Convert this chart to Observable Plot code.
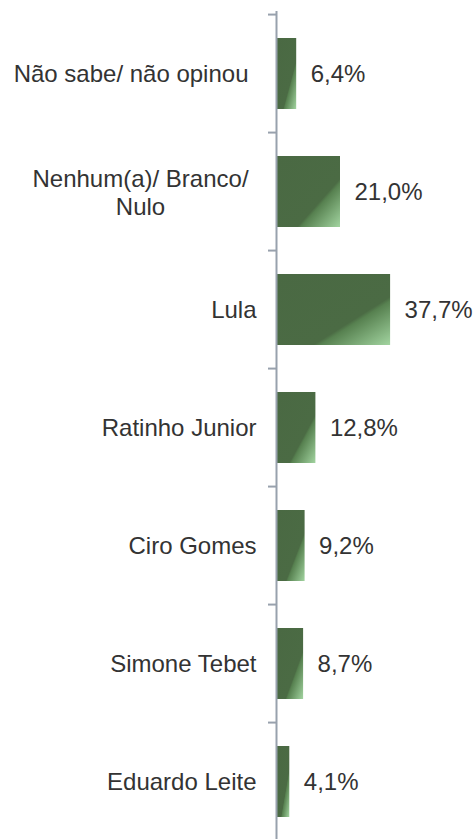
<!DOCTYPE html>
<html>
<head>
<meta charset="utf-8">
<script src="https://cdn.jsdelivr.net/npm/d3@7"></script>
<script src="https://cdn.jsdelivr.net/npm/@observablehq/plot@0.6"></script>
<style>
  html, body { margin: 0; padding: 0; background: #fff; }
  #chart svg { display: block; }
</style>
</head>
<body>
<div id="chart"></div>
<script>
const categories = [
  "Não sabe/ não opinou",
  "Nenhum(a)/ Branco/ Nulo",
  "Lula",
  "Ratinho Junior",
  "Ciro Gomes",
  "Simone Tebet",
  "Eduardo Leite"
];
const values = [6.4, 21.0, 37.7, 12.8, 9.2, 8.7, 4.1];

const data = categories.map((c, i) => ({category: c, value: values[i]}));
const fmt = v => v.toFixed(1).replace(".", ",") + "%";

const wrapped = "Nenhum(a)/ Branco/ Nulo";
const longLabel = "Não sabe/ não opinou";

const font = "'Liberation Sans', Arial, sans-serif";
const textColor = "#333333";
const axisColor = "#98a1ad";

const yRange = [11, 843];
const bandStep = (yRange[1] - yRange[0]) / categories.length;

function gradientDefs() {
  const ns = "http://www.w3.org/2000/svg";
  const defs = document.createElementNS(ns, "defs");
  const g = document.createElementNS(ns, "linearGradient");
  g.setAttribute("id", "barGrad");
  g.setAttribute("x1", "0"); g.setAttribute("y1", "0");
  g.setAttribute("x2", "1"); g.setAttribute("y2", "1");
  [["0", "#4a6943"], ["0.66", "#4b6b44"], ["0.69", "#578150"], ["1", "#a2d4a0"]].forEach(([o, c]) => {
    const s = document.createElementNS(ns, "stop");
    s.setAttribute("offset", o);
    s.setAttribute("stop-color", c);
    g.appendChild(s);
  });
  defs.appendChild(g);
  return defs;
}

const chart = Plot.plot({
  width: 475,
  height: 839,
  marginLeft: 277,
  marginRight: 0,
  marginTop: 11,
  marginBottom: 0,
  style: {fontFamily: font, fontSize: "24px", color: textColor, background: "#fff"},
  x: {domain: [0, 66], range: [277, 475], axis: null},
  y: {domain: categories, range: yRange, paddingInner: 0.4, paddingOuter: 0.2, axis: null},
  marks: [
    gradientDefs,
    Plot.barX(data, {y: "category", x: "value", fill: "url(#barGrad)"}),
    Plot.ruleX([0], {stroke: axisColor, strokeWidth: 2, dx: -1}),
    Plot.axisY({
      tickSize: 8, tickFormat: () => "", label: null,
      stroke: axisColor, strokeWidth: 2, dy: -bandStep / 2, dx: -1
    }),
    Plot.text(data.filter(d => d.category !== wrapped && d.category !== longLabel), {
      y: "category", x: 0, text: "category", textAnchor: "end", dx: -21,
      fill: textColor, fontSize: 24
    }),
    Plot.text(data.filter(d => d.category === longLabel), {
      y: "category", x: 0, text: "category", textAnchor: "end", dx: -29,
      fill: textColor, fontSize: 24
    }),
    Plot.text(data.filter(d => d.category === wrapped), {
      y: "category", x: 0, text: d => "Nenhum(a)/ Branco/\nNulo", textAnchor: "middle", dx: -137,
      lineHeight: 1.17, fill: textColor, fontSize: 24
    }),
    Plot.text(data, {
      y: "category", x: "value", text: d => fmt(d.value), textAnchor: "start", dx: 14,
      fill: textColor, fontSize: 24
    })
  ]
});

document.getElementById("chart").appendChild(chart);
</script>
</body>
</html>
